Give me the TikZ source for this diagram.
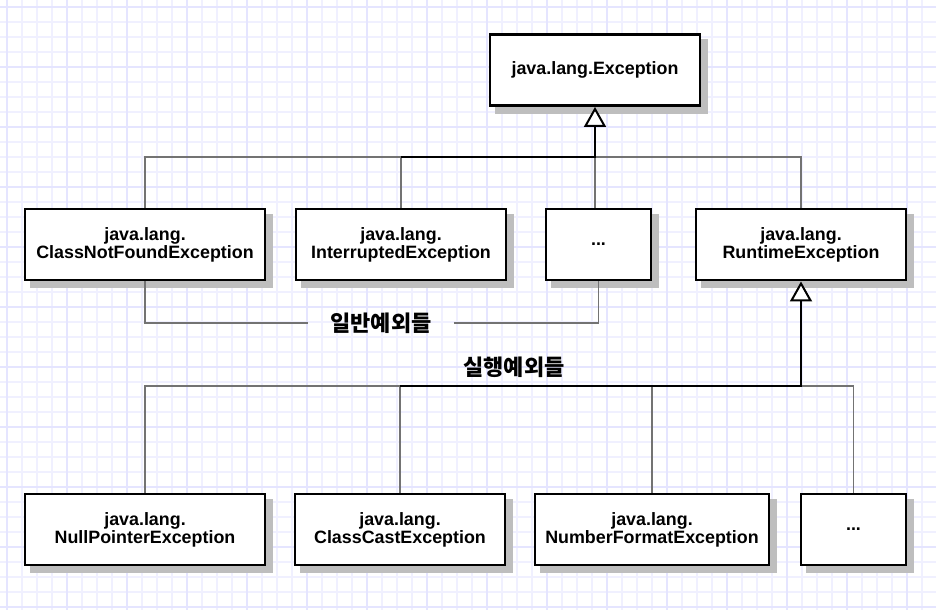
\documentclass[tikz,border=0pt]{standalone}
\usepackage{fontspec}
\setmainfont{Liberation Sans}
\newfontfamily\kofont{Noto Sans CJK KR}
\usetikzlibrary{arrows.meta,backgrounds,calc}

\definecolor{gridminor}{RGB}{240,240,255}
\definecolor{gridmajor}{RGB}{229,229,255}
\definecolor{wire}{RGB}{115,115,115}
\definecolor{shadowgrey}{RGB}{190,190,190}

\tikzset{
  cls/.style={draw, line width=2.2pt, fill=white, minimum height=53.25pt,
    align=center, inner sep=0pt, font=\bfseries\fontsize{13.4}{13.6}\selectfont},
  wide/.style={cls, minimum width=180pt},
  mid/.style={cls, minimum width=157.5pt},
  small/.style={cls, minimum width=78.75pt},
  wire/.style={draw=wire, line width=1.2pt},
  bus/.style={draw=black, line width=2.2pt},
  inherit/.style={bus, -{Triangle[length=15pt, width=16.5pt, fill=white, line width=1.5pt]}},
  group/.style={font=\kofont\bfseries\fontsize{16.5}{17}\selectfont, inner sep=0pt}
}

\begin{document}
\begin{tikzpicture}[x=0.75pt, y=-0.75pt]
\useasboundingbox (0,0) rectangle (936,610);
\begin{pgfonlayer}{background}
\fill[white] (0,0) rectangle (936,610);
% background grid
\foreach \g in {7,22,...,937} \draw[gridminor, line width=1.1pt] (\g,0) -- (\g,610);
\foreach \g in {7,22,...,607} \draw[gridminor, line width=1.1pt] (0,\g) -- (936,\g);
\foreach \g in {7,67,...,937} \draw[gridmajor, line width=1.1pt] (\g,0) -- (\g,610);
\foreach \g in {7,67,...,607} \draw[gridmajor, line width=1.1pt] (0,\g) -- (936,\g);
\end{pgfonlayer}

% classes
\node[mid] (exc) at (595,70) {java.lang.Exception};

\node[wide] (cnf) at (145,244.5) {java.lang.\\ClassNotFoundException};
\node[mid] (intr) at (401,244.5) {java.lang.\\InterruptedException};
\node[small] (more1) at (598.5,244.5) {...};
\node[mid] (rte) at (801,244.5) {java.lang.\\RuntimeException};

\node[wide] (npe) at (145,529.5) {java.lang.\\NullPointerException};
\node[mid] (cce) at (400,529.5) {java.lang.\\ClassCastException};
\node[cls, minimum width=175.5pt] (nfe) at (652,529.5) {java.lang.\\NumberFormatException};
\node[small] (more2) at (853.5,529.5) {...};

% shadows
\begin{pgfonlayer}{background}
\foreach \n in {exc,cnf,intr,more1,rte,npe,cce,nfe,more2}
  \fill[shadowgrey] ($(\n.north west)+(6,6)$) rectangle ($(\n.south east)+(7,7)$);
\end{pgfonlayer}

% checked exceptions
\coordinate (j1) at (exc.south |- 0,157);
\draw[wire] (cnf.north) -- (cnf.north |- j1) -- (rte.north |- j1) -- (rte.north);
\draw[wire] (intr.north) -- (intr.north |- j1);
\draw[wire] (j1) -- (j1 |- more1.north);
\draw[inherit] (intr.north |- j1) -- (j1) -- (exc.south);

\node[group, inner xsep=16.5pt] (chk) at (381,323) {일반예외들};
\draw[wire] (cnf.south) |- (chk.west);
\draw[wire] (chk.east) -| (more1.south);

% unchecked exceptions
\coordinate (j2) at (rte.south |- 0,386);
\draw[wire] (npe.north) -- (npe.north |- j2) -- (more2.north |- j2) -- (more2.north);
\draw[wire] (nfe.north) -- (nfe.north |- j2);
\draw[wire] (cce.north) -- (cce.north |- j2);
\draw[inherit] (cce.north |- j2) -- (j2) -- (rte.south);

\node[group] (unchk) at (514,367) {실행예외들};
\end{tikzpicture}
\end{document}
